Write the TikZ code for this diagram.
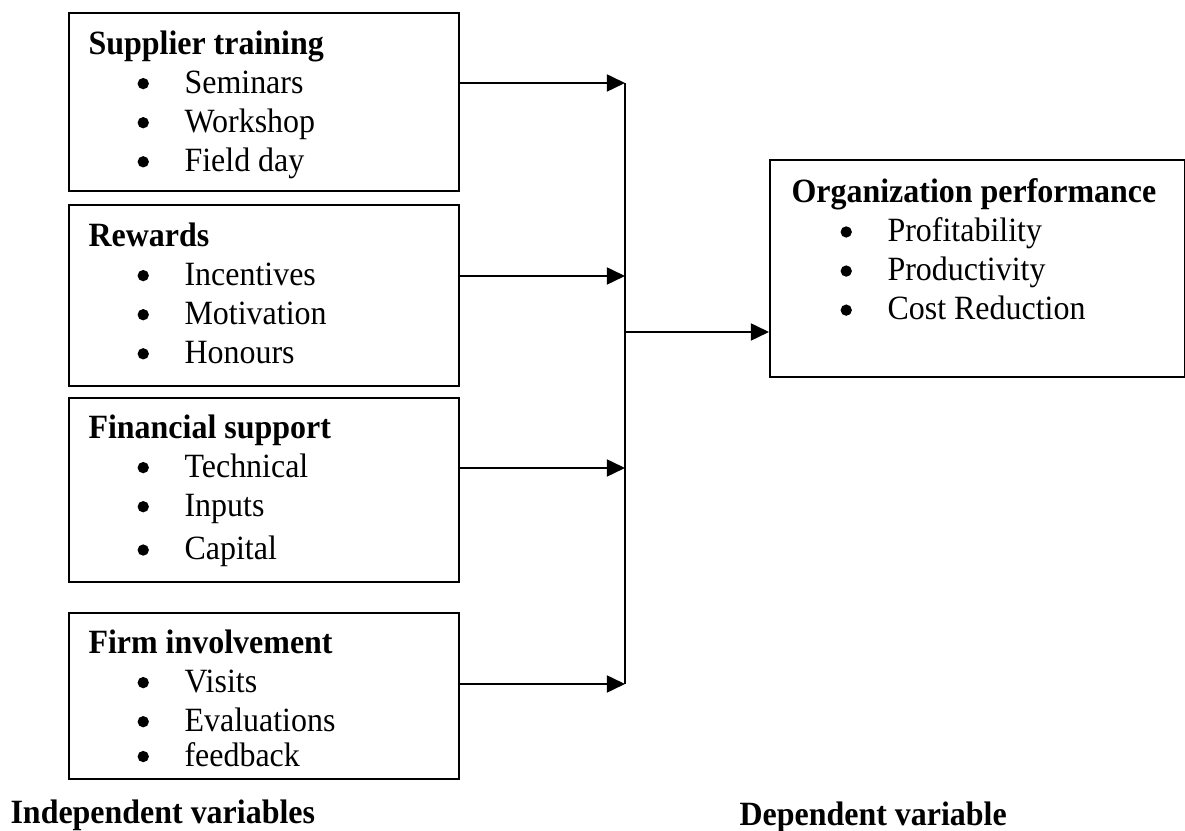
\documentclass[tikz,border=0pt]{standalone}
\usepackage{fontspec}
\setmainfont{Liberation Serif}[FakeStretch=0.94]
\usetikzlibrary{positioning,arrows.meta}

\newdimen\pxu \pxu=0.353pt
\newcommand{\vdot}{\tikz[baseline=-3.4pt]\fill (0,0) circle (2pt);}
\newcommand{\vitem}[1]{\makebox[96\pxu][l]{\hspace*{49\pxu}\vdot}#1}

\tikzset{
  varbox/.style={draw, line width=0.6pt, inner sep=0pt, anchor=north west},
  vartext/.style={inner sep=0pt, align=left, font=\fontsize{12}{13.8}\selectfont},
  feed/.style={-{Triangle[length=6.4pt,width=6pt]}, line width=0.7pt},
}

\begin{document}
\begin{tikzpicture}[x=0.353pt, y=-0.353pt, font=\fontsize{12}{13.8}\selectfont]
    \useasboundingbox (0,0) rectangle (1185,831);
    % left column: independent variables
    \node[varbox, minimum width=390\pxu, minimum height=178\pxu] (train) at (68,12) {};
    \node[varbox, minimum width=390\pxu, minimum height=181\pxu] (reward) at (68,204) {};
    \node[varbox, minimum width=390\pxu, minimum height=184\pxu] (finance) at (68,397) {};
    \node[varbox, minimum width=390\pxu, minimum height=166\pxu] (firm) at (68,612) {};
    \node[vartext, below right=18\pxu and 20\pxu of train.north west] (train-list)
        {\textbf{Supplier training}\\ \vitem{Seminars}\\ \vitem{Workshop}\\ \vitem{Field day}};
    \node[vartext, below right=18\pxu and 20\pxu of reward.north west] (reward-list)
        {\textbf{Rewards}\\ \vitem{Incentives}\\ \vitem{Motivation}\\ \vitem{Honours}};
    \node[vartext, below right=17\pxu and 20\pxu of finance.north west] (finance-list)
        {\textbf{Financial support}\\ \vitem{Technical}\\ \vitem{Inputs}\\[1.5pt] \vitem{Capital}};
    \node[vartext, below right=17\pxu and 20\pxu of firm.north west] (firm-list)
        {\textbf{Firm involvement}\\ \vitem{Visits}\\ \vitem{Evaluations}\\[-1.5pt] \vitem{feedback}};
    % right: dependent variable
    \node[varbox, minimum width=415\pxu, minimum height=217\pxu] (perf) at (769,159) {};
    \node[vartext, below right=19\pxu and 22\pxu of perf.north west] (perf-list)
        {\textbf{Organization performance}\\ \vitem{Profitability}\\ \vitem{Productivity}\\ \vitem{Cost Reduction}};
    % junctions on the trunk
    \coordinate (j1) at (625,83);
    \coordinate (j2) at (625,276);
    \coordinate (j3) at (625,468);
    \coordinate (j4) at (625,684);
    \coordinate (jout) at (625,332);
    \draw[feed] (train.east |- j1) -- (j1);
    \draw[feed] (reward.east |- j2) -- (j2);
    \draw[feed] (finance.east |- j3) -- (j3);
    \draw[feed] (firm.east |- j4) -- (j4);
    \draw[line width=0.7pt] (j1) -- (j4);
    \draw[feed] (jout) -- (jout -| perf.west);
    % captions
    \node[anchor=west, inner sep=0pt, font=\fontsize{12}{13.8}\selectfont\bfseries] (indep) at (10,815) {Independent variables};
    \node[anchor=west, inner sep=0pt, font=\fontsize{12}{13.8}\selectfont\bfseries] (dep) at (739,817) {Dependent variable};
\end{tikzpicture}
\end{document}
